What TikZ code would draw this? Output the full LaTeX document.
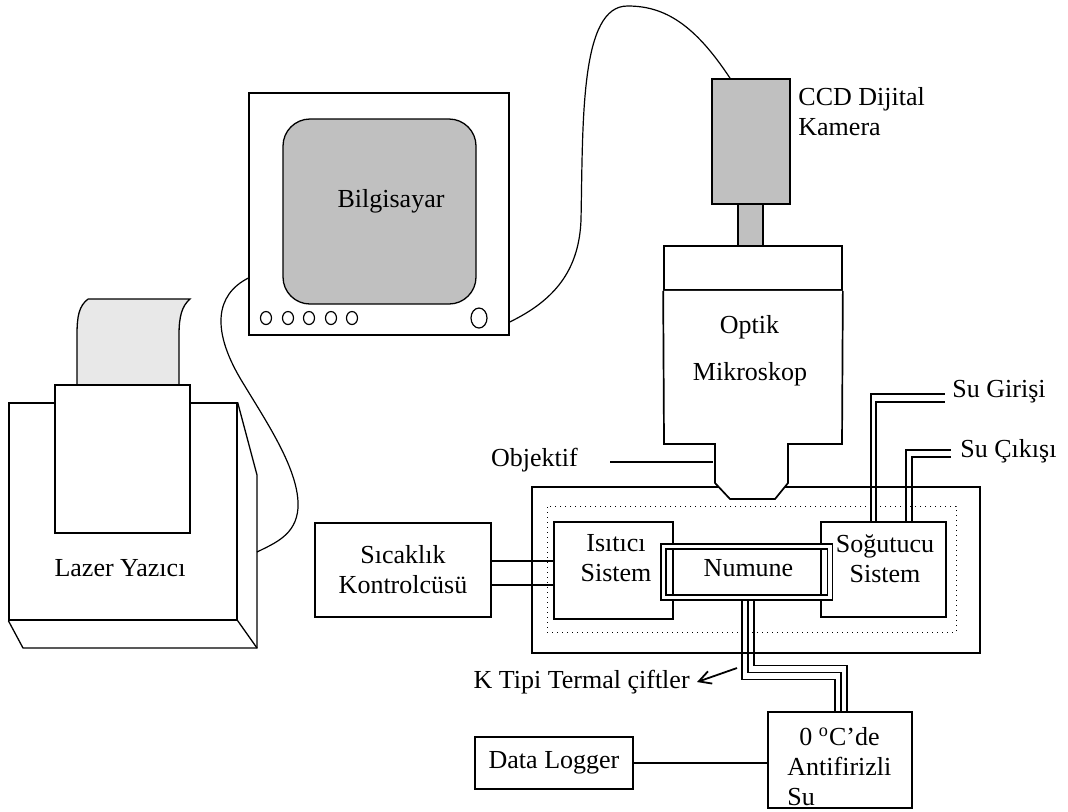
\documentclass[tikz,border=0pt]{standalone}
\usepackage{fontspec}
\setmainfont{Liberation Serif}
\usetikzlibrary{arrows.meta,positioning}
\definecolor{Screen}{HTML}{C0C0C0}
\definecolor{Sheet}{HTML}{E8E8E8}

\begin{document}
\begin{tikzpicture}[x=0.5pt,y=-0.5pt, every node/.style={font=\fontsize{13pt}{15pt}\selectfont,align=center,inner sep=0pt},
box/.style={draw,line width=0.85pt,rectangle},
thinbox/.style={draw,line width=0.65pt,rectangle},
cable/.style={line width=0.6pt},
pipe/.style={line width=0.8pt},
>={Straight Barb[length=6pt,width=6.5pt,line width=0.9pt]}]
\useasboundingbox (0,0) rectangle (1068,811);

\draw[line width=0.65pt,fill=Sheet] (88,299) -- (190,299) .. controls (182,306) and (179,316) .. (179,335) -- (179,385) -- (77,385) -- (77,335) .. controls (77,316) and (79,306) .. (88,299);
\node[thinbox,minimum width=114pt,minimum height=108.5pt] (yazici) at (123,511.5) {};
\draw[line width=0.65pt] (yazici.north east) -- (257,475) -- (257,648) -- (23,648) -- (yazici.south west);
\draw[line width=0.65pt] (yazici.south east) -- (257,648);
\node[thinbox,fill=white,minimum width=67.5pt,minimum height=74pt] (tepsi) at (122.5,459) {};
\node (yazici-t) at (120,568) {Lazer Yazıcı};
\coordinate (yazici-yan) at (257,552);

\node[thinbox,minimum width=130pt,minimum height=121pt] (monitor) at (379,214) {};
\node[draw,line width=0.65pt,fill=Screen,rounded corners=13.5pt,minimum width=96.5pt,minimum height=92.5pt] (ekran) at (379.5,211.5) {};
\node (ekran-t) at (391,201) {Bilgisayar};
\foreach \x in {266,288,309,331,352}
  \draw[line width=0.6pt] (\x,318) ellipse [x radius=2.75pt, y radius=3.25pt];
\draw[line width=0.6pt] (479,318) ellipse [x radius=4pt, y radius=5pt];

\draw[cable] ([yshift=-32pt]monitor.west) .. controls (215,295) and (212,330) .. (240,378) .. controls (265,420) and (300,470) .. (298,508) .. controls (296,535) and (275,543) .. (yazici-yan);

\node[box,fill=Screen,minimum width=39pt,minimum height=62.5pt] (kamera) at (751,141.5) {};
\node[box,fill=Screen,minimum width=12.5pt,minimum height=21pt] (boyun) at (750.5,225) {};
\node[anchor=north west,align=left] (kamera-t) at (798,87) {CCD Dijital\\Kamera};
\draw[cable] ([yshift=-54pt]monitor.east) .. controls (555,300) and (579,270) .. (581,220) .. controls (583,120) and (580,5) .. (628,6) .. controls (665,6) and (695,25) .. ([xshift=-10.5pt]kamera.north);

\node[box,line width=1pt,minimum width=224pt,minimum height=83pt] (hazne) at (756,570) {};
\node[draw,dotted,line width=0.5pt,minimum width=204.5pt,minimum height=63pt] (yalitim) at (751.5,569) {};

\node[box,minimum width=89pt,minimum height=22pt] (okuler) at (753,268) {};
\draw[line width=0.85pt,fill=white] (okuler.south west) -- (664,444) -- (715,444) -- (715,483) -- (730,499) -- (775,499) -- (788,483) -- (788,444) -- (842,444) -- (okuler.south east);
\node (optik-t) at (749.5,327) {Optik};
\node (mikroskop-t) at (750,374) {Mikroskop};
\node (objektif-t) at (534.5,460) {Objektif};
\coordinate (objektif) at (713,462);
\draw[pipe] ([xshift=16pt,yshift=-1pt]objektif-t.east) -- (objektif);

\node[box,minimum width=59.5pt,minimum height=48.5pt] (isitici) at (613.5,570.5) {};
\node (isitici-t) at (616,558.5) {Isıtıcı\\Sistem};
\node[box,minimum width=62.5pt,minimum height=47.5pt] (sogutucu) at (883.5,569.5) {};
\node (sogutucu-t) at (885,558.5) {Soğutucu\\Sistem};
\node[draw,double,line width=0.75pt,double distance=1.75pt,minimum width=83.25pt,minimum height=25.5pt] (numune) at (746.5,572) {};
\node (numune-t) at (748.5,568) {Numune};

\node[box,minimum width=88pt,minimum height=47pt] (kontrol) at (403,570) {Sıcaklık\\Kontrolcüsü};
\draw[pipe] ([yshift=4.5pt]kontrol.east) -- ([yshift=4.5pt]kontrol.east -| isitici.west);
\draw[pipe] ([yshift=-7.5pt]kontrol.east) -- ([yshift=-7.5pt]kontrol.east -| isitici.west);

\node[anchor=west,inner sep=3.5pt] (giris-t) at (945,392) {Su Girişi};
\node[anchor=west,inner sep=4.5pt] (cikis-t) at (951,451) {Su Çıkışı};
\draw[pipe] ([xshift=-6.25pt]sogutucu.north) |- ([yshift=-1pt]giris-t.west);
\draw[pipe] ([xshift=-3.75pt]sogutucu.north) |- ([yshift=-5pt]giris-t.west);
\draw[pipe] ([xshift=11.25pt]sogutucu.north) |- ([yshift=0.5pt]cikis-t.west);
\draw[pipe] ([xshift=14.25pt]sogutucu.north) |- ([yshift=-3pt]cikis-t.west);

\node[box,minimum width=72pt,minimum height=48pt] (antifriz) at (840,760) {};
\node[anchor=north west] (antifriz-t1) at (799,727) {0 \textsuperscript{o}C’de};
\node[anchor=north west,align=left] (antifriz-t2) at (787,757) {Antifirizli\\Su};
\draw[pipe] ([xshift=-2.25pt,yshift=-1.2pt]numune.south) -- ++(0,79) -| ([xshift=-2.5pt]antifriz.north);
\draw[pipe] ([xshift=0.75pt,yshift=-1.2pt]numune.south) -- ++(0,72) -| ([xshift=0.5pt]antifriz.north);
\draw[pipe] ([xshift=3.75pt,yshift=-1.2pt]numune.south) -- ++(0,65) -| ([xshift=3.5pt]antifriz.north);

\node[box,minimum width=79pt,minimum height=26pt] (logger) at (554,763) {Data Logger};
\draw[pipe] (logger.east) -- (logger.east -| antifriz.west);

\node[anchor=east] (ktipi-t) at (690,682) {K Tipi Termal çiftler};
\coordinate (ktipi-a) at (737,668);
\draw[->,line width=0.9pt] (ktipi-a) -- ([xshift=3.5pt]ktipi-t.east);
\end{tikzpicture}
\end{document}
